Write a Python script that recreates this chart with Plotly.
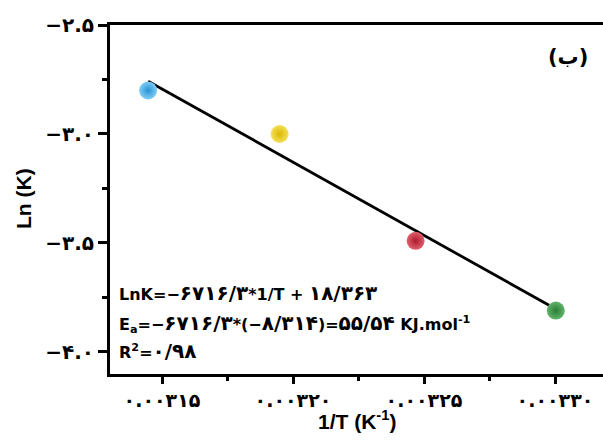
import re
import plotly.graph_objects as go

# Data (1/T in K^-1, Ln K)
inv_T = [0.0031447, 0.0031949, 0.0032468, 0.0033003]
ln_k = [-2.80, -3.00, -3.49, -3.81]
point_colors = ["#2A93D5", "#D9B800", "#AE1A2B", "#2A7D34"]
point_highlights = ["#7FCDF5", "#F5E05A", "#E0606E", "#62B46C"]

# Linear fit: LnK = slope * (1/T) + intercept
slope = -6716.3
intercept = 18.363
fit_x = [inv_T[0], inv_T[-1]]
fit_y = [slope * v + intercept for v in fit_x]

y_tickvals = [-2.5, -3.0, -3.5, -4.0]
y_ticktext = ["−۲.۵", "−۳.۰", "−۳.۵", "−۴.۰"]
x_tickvals = [0.00315, 0.00320, 0.00325, 0.00330]
x_ticktext = ["۰.۰۰۳۱۵", "۰.۰۰۳۲۰", "۰.۰۰۳۲۵", "۰.۰۰۳۳۰"]

eq_lines = [
    "LnK=−۶۷۱۶/۳*1/T + ۱۸/۳۶۳",
    "E<sub>a</sub>=−۶۷۱۶/۳*(−۸/۳۱۴)=۵۵/۵۴ KJ.mol<sup>-1</sup>",
    "R<sup>2</sup>=۰/۹۸",
]

FONT = "Liberation Sans, Arial, DejaVu Sans, sans-serif"
PFONT = "DejaVu Sans, sans-serif"

L, T_, W, H = 110, 25, 493, 349


def px(xp):
    return (xp - L) / W


def py(yp):
    return 1 - (yp - T_) / H


def big_digits(s, size=20):
    return re.sub(r"([۰-۹]+(?:/[۰-۹]+)*)",
                  lambda m: f'<span style="font-size:{size}px">{m.group(1)}</span>', s)


fig = go.Figure()
fig.add_trace(go.Scatter(
    x=fit_x, y=fit_y, mode="lines",
    line=dict(color="black", width=2.8), showlegend=False, hoverinfo="skip"))
fig.add_trace(go.Scatter(
    x=inv_T, y=ln_k, mode="markers", showlegend=False,
    marker=dict(size=18, color=point_highlights,
                gradient=dict(type="radial", color=point_colors),
                line=dict(width=0))))

ann = [
    dict(text="Ln (K)", textangle=-90, xref="paper", yref="paper",
         x=px(23), y=py(199), xanchor="center", yanchor="middle",
         showarrow=False, font=dict(size=21, family=FONT, weight="bold")),
    dict(text="1/T (K<sup>-1</sup>)", xref="paper", yref="paper",
         x=px(357), y=py(420), xanchor="center", yanchor="middle",
         showarrow=False, font=dict(size=21, family=FONT, weight="bold")),
    dict(text="(ب)", xref="paper", yref="paper",
         x=px(590), y=py(57), xanchor="right", yanchor="middle",
         showarrow=False, font=dict(size=21, family=PFONT, weight="bold")),
]
for line, yp in zip(eq_lines, [293, 323, 351]):
    ann.append(dict(text=big_digits(line), xref="paper", yref="paper",
                    x=px(117), y=py(yp), xanchor="left", yanchor="middle",
                    showarrow=False, font=dict(size=16, family=PFONT, weight="bold")))

fig.update_layout(
    width=603, height=442,
    margin=dict(l=L, r=0, t=T_, b=442 - T_ - H),
    paper_bgcolor="white", plot_bgcolor="white",
    font=dict(family=FONT, color="black"),
    xaxis=dict(
        range=[0.00313015, 0.00331832],
        tickmode="array", tickvals=x_tickvals, ticktext=x_ticktext,
        tickfont=dict(size=19, family=PFONT, weight="bold"),
        ticks="outside", ticklen=7, tickwidth=2.5, tickcolor="black",
        showline=True, linewidth=3, linecolor="black", mirror=True,
        showgrid=False, zeroline=False,
        minor=dict(tick0=0.003125, dtick=0.00005, ticks="outside",
                   ticklen=4, tickwidth=2.5, tickcolor="black", showgrid=False),
    ),
    yaxis=dict(
        range=[-4.101, -2.5],
        tickmode="array", tickvals=y_tickvals, ticktext=y_ticktext,
        tickfont=dict(size=20, family=PFONT, weight="bold"),
        ticks="outside", ticklen=9, tickwidth=2.5, tickcolor="black",
        showline=True, linewidth=3, linecolor="black", mirror=False,
        showgrid=False, zeroline=False,
        minor=dict(tick0=-2.75, dtick=0.5, ticks="outside",
                   ticklen=5, tickwidth=2.5, tickcolor="black", showgrid=False),
    ),
    annotations=ann,
)

fig.write_html("out.html")
